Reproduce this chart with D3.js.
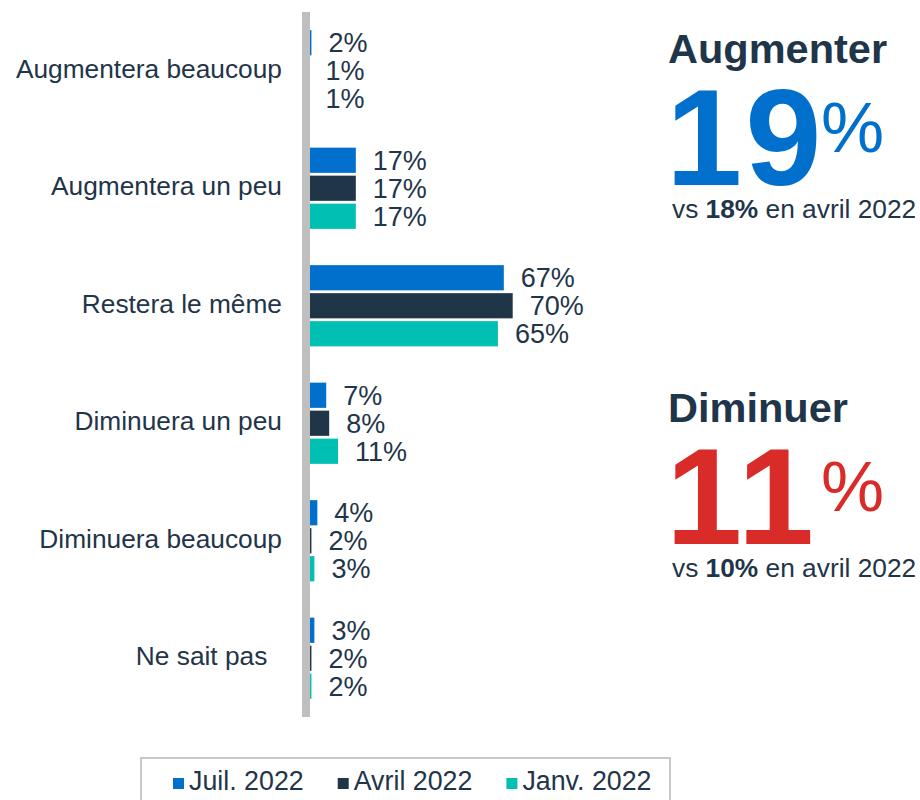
<!DOCTYPE html>
<html>
<head>
<meta charset="utf-8">
<script src="https://cdn.jsdelivr.net/npm/d3@7"></script>
<style>
  html, body { margin: 0; padding: 0; background: #fff; }
  svg { display: block; font-family: Arial, "Liberation Sans", sans-serif; }
</style>
</head>
<body>
<svg id="chart" width="920" height="800"></svg>
<script>
// ---- Data ----
const categories = ["Augmentera beaucoup", "Augmentera un peu", "Restera le même", "Diminuera un peu", "Diminuera beaucoup", "Ne sait pas\u00a0\u00a0"];
const seriesNames = ["Juil. 2022", "Avril 2022", "Janv. 2022"];
const juil2022 = [2, 17, 67, 7, 4, 3];
const avril2022 = [1, 17, 70, 8, 2, 2];
const janv2022 = [1, 17, 65, 11, 3, 2];
const seriesColors = ["#0070cc", "#203648", "#00bfb3"];
const summaryTitles = ["Augmenter", "Diminuer"];
const summaryValues = [19, 11];
const summaryPrevious = [18, 10];
const summaryPrevLabel = "en avril 2022";
const summaryColors = ["#0070cc", "#d92b28"];

const textColor = "#1f3549";
const seriesValues = [juil2022, avril2022, janv2022];

const svg = d3.select("#chart");

// ---- Scales ----
const x = d3.scaleLinear().domain([0, 70]).range([305.5, 512.7]);
const y = d3.scaleBand().domain(categories).range([12, 717]);
const inner = d3.scaleBand().domain(seriesNames).range([-42, 42]).paddingInner(0.1).paddingOuter(0.05);

// ---- Bars ----
const groups = svg.append("g").selectAll("g.grp")
  .data(categories)
  .join("g")
  .attr("class", "grp")
  .attr("transform", d => `translate(0,${y(d) + y.bandwidth() / 2})`);

seriesNames.forEach((s, si) => {
  groups.append("rect")
    .attr("x", x(0))
    .attr("y", inner(s))
    .attr("height", inner.bandwidth())
    .attr("width", (d, i) => x(seriesValues[si][i]) - x(0))
    .attr("fill", seriesColors[si]);

  groups.append("text")
    .attr("x", (d, i) => x(seriesValues[si][i]) + 17)
    .attr("y", inner(s) + inner.bandwidth() / 2)
    .attr("dy", "0.36em")
    .attr("font-size", 27)
    .attr("fill", textColor)
    .text((d, i) => seriesValues[si][i] + "%");
});

// ---- Category axis (labels + gray line) ----
const yAxis = d3.axisLeft(y).tickSize(0).tickPadding(0);
const axisG = svg.append("g").attr("transform", "translate(282,0)").call(yAxis);
axisG.select(".domain").remove();
axisG.selectAll("text")
  .attr("font-size", 26.3)
  .attr("font-family", 'Arial, "Liberation Sans", sans-serif')
  .attr("fill", textColor)
  .attr("dy", "0.27em")
  .style("white-space", "pre");

svg.append("rect")
  .attr("x", 302).attr("y", 12)
  .attr("width", 8).attr("height", 705)
  .attr("fill", "#bfbfbf");

// ---- Summary panels ----
const panelTops = [63, 422];
summaryTitles.forEach((t, i) => {
  const base = panelTops[i];
  const g = svg.append("g");
  g.append("text")
    .attr("x", 668).attr("y", base)
    .attr("font-size", 41.5).attr("font-weight", "bold")
    .attr("fill", textColor)
    .text(t);
  g.append("text")
    .attr("x", 666).attr("y", base + 122)
    .attr("font-size", 137).attr("font-weight", "bold")
    .attr("fill", summaryColors[i])
    .attr("letter-spacing", 3)
    .text(summaryValues[i]);
  g.append("text")
    .attr("x", 821).attr("y", base + 89)
    .attr("font-size", 71)
    .attr("fill", summaryColors[i])
    .text("%");
  const vs = g.append("text")
    .attr("x", 672).attr("y", base + 155)
    .attr("font-size", 26.3)
    .attr("fill", textColor);
  vs.append("tspan").text("vs ");
  vs.append("tspan").attr("font-weight", "bold").text(summaryPrevious[i] + "%");
  vs.append("tspan").text(" " + summaryPrevLabel);
});

// ---- Legend ----
const legend = svg.append("g");
legend.append("rect")
  .attr("x", 141).attr("y", 758)
  .attr("width", 529).attr("height", 60)
  .attr("fill", "none")
  .attr("stroke", "#c8c8c8")
  .attr("stroke-width", 2);

let lx = 173;
seriesNames.forEach((s, i) => {
  legend.append("rect")
    .attr("x", lx).attr("y", 778)
    .attr("width", 11).attr("height", 11)
    .attr("fill", seriesColors[i]);
  const t = legend.append("text")
    .attr("x", lx + 16).attr("y", 790)
    .attr("font-size", 26.8)
    .attr("fill", textColor)
    .text(s);
  lx += 16 + t.node().getComputedTextLength() + 34;
});
</script>
</body>
</html>
